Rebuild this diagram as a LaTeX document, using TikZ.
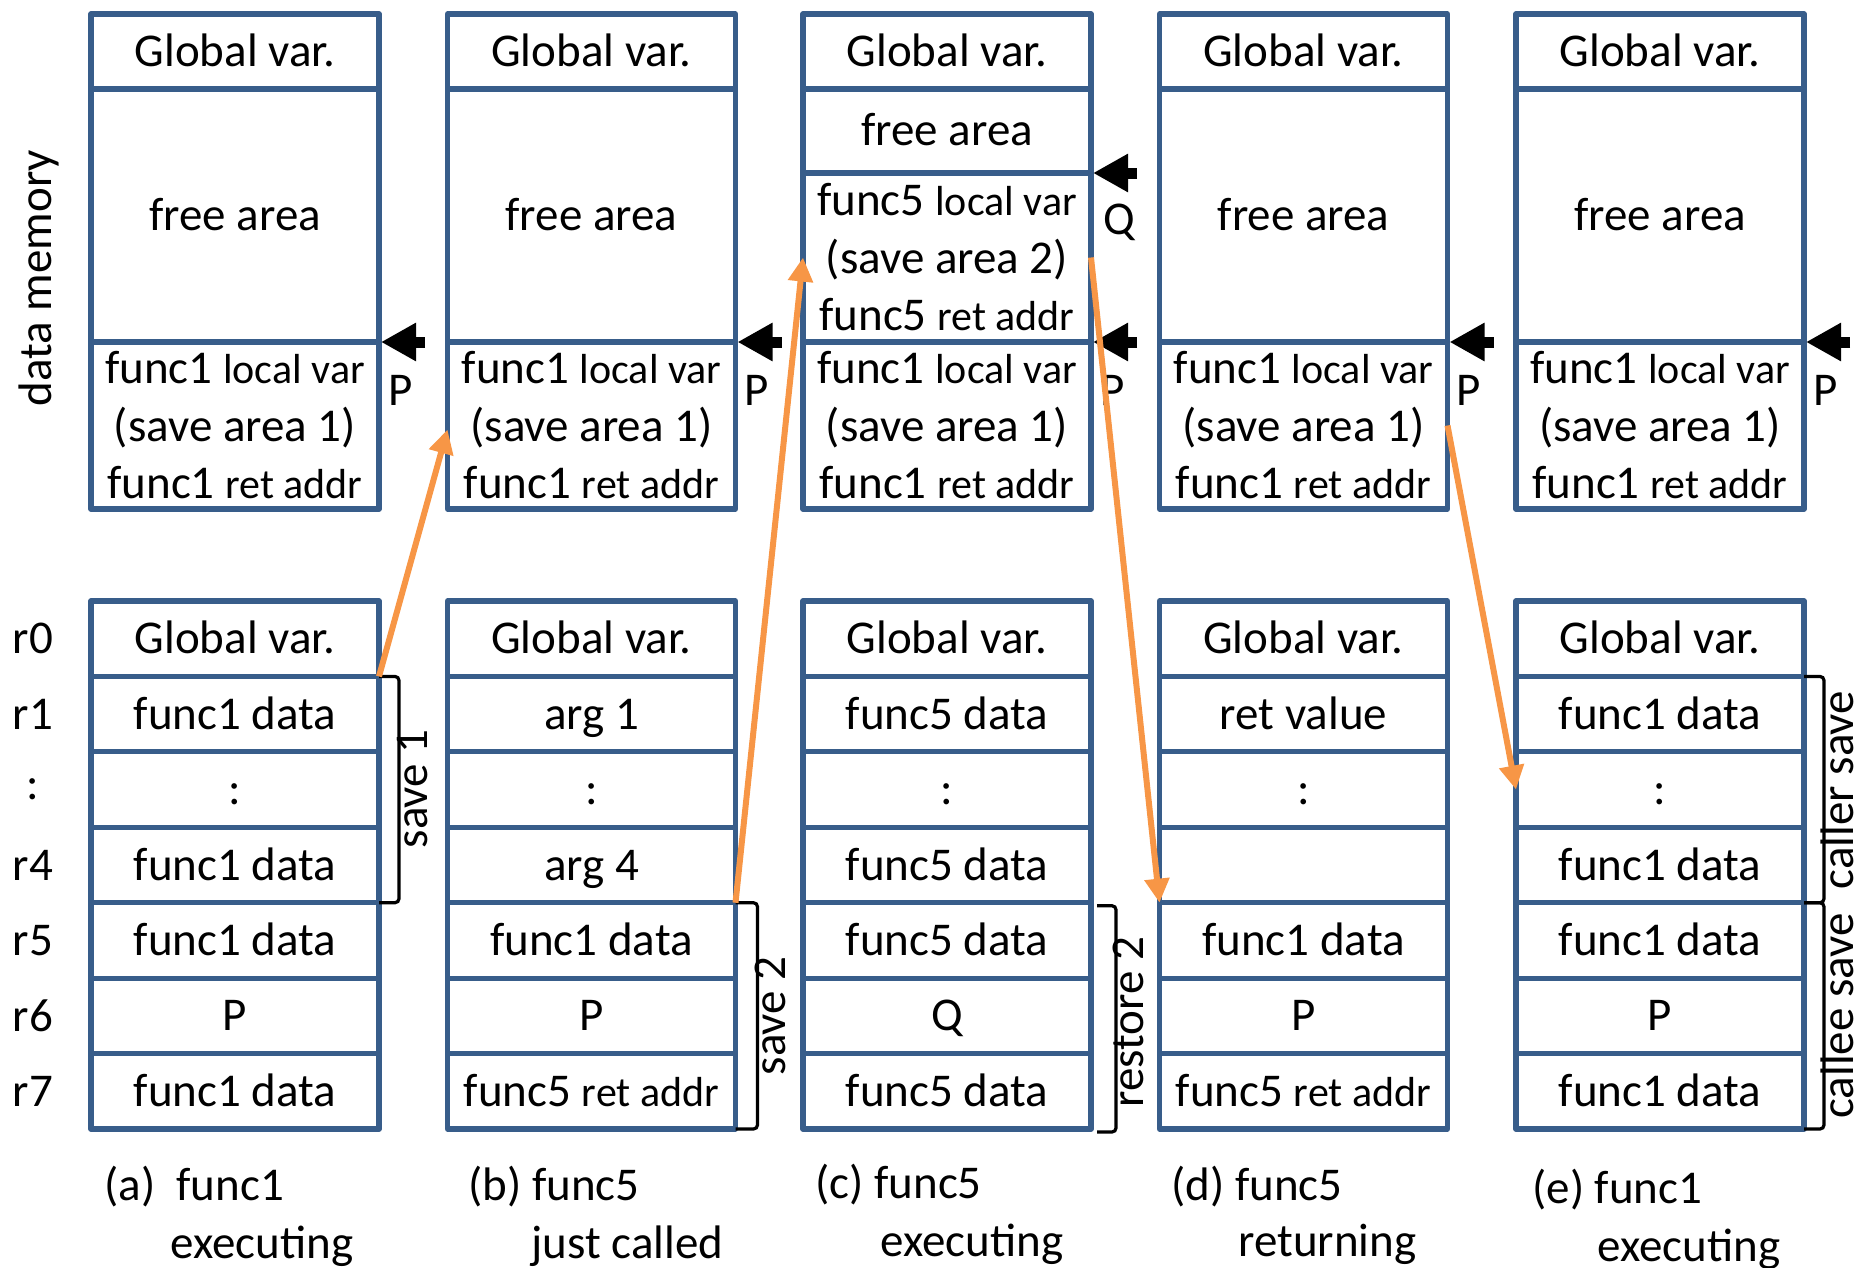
\documentclass[tikz,border=0pt]{standalone}
\usepackage{fontspec}
\setmainfont{Carlito}
\usetikzlibrary{arrows.meta,calc}
\definecolor{boxblue}{HTML}{385D8A}
\definecolor{linkorange}{HTML}{F79646}
\newcommand\bigtxt{\fontsize{23.5}{28.75}\selectfont}
\newcommand\sm[1]{{\fontsize{21}{28.75}\selectfont #1}}
% memory block: [style] name, left x, top y, bottom y, text
\newcommand\memblk[6][]{\node[cell,#1,minimum height={(#5-#4)*0.5pt}] (#2) at ({#3+144},{(#4+#5)/2}) {#6};}
% register row: name, left x, row index, text
\newcommand\regblk[4]{\node[cell,reg] (#1) at ({#2+144},{601+75.43*(#3+0.5)}) {#4};}
\begin{document}
\begin{tikzpicture}[x=0.5pt,y=-0.5pt,
  cell/.style={draw=boxblue, line width=2.6pt, line join=round, minimum width=144pt,
    inner sep=0pt, outer sep=0pt, align=center, font=\bigtxt},
  oneline/.style={text height=17pt, text depth=2pt},
  reg/.style={oneline, minimum height=37.715pt},
  lbl/.style={font=\bigtxt, inner sep=0pt},
  ptr/.style={line width=5.5pt, -{Triangle[length=17.5pt,width=18pt]}},
  link/.style={draw=linkorange, line width=3pt, -{Triangle[length=12pt,width=12pt]}},
  brk/.style={line width=1.6pt, rounded corners=2pt},
]
\useasboundingbox (0,0) rectangle (1858,1268);

% ---- data memory (top row) ----
\memblk[oneline]{aGlob}{91}{14}{89}{Global var.}
\memblk[oneline]{aFree}{91}{89}{342}{free area}
\memblk{aLoc}{91}{342}{509}{func1 \sm{local var}\\(save area 1)\\func1 \sm{ret addr}}

\memblk[oneline]{bGlob}{447.5}{14}{89}{Global var.}
\memblk[oneline]{bFree}{447.5}{89}{342}{free area}
\memblk{bLoc}{447.5}{342}{509}{func1 \sm{local var}\\(save area 1)\\func1 \sm{ret addr}}

\memblk[oneline]{cGlob}{803}{14}{89}{Global var.}
\memblk[oneline]{cFree}{803}{89}{173}{free area}
\memblk{cF5}{803}{173}{342}{func5 \sm{local var}\\(save area 2)\\func5 \sm{ret addr}}
\memblk{cLoc}{803}{342}{509}{func1 \sm{local var}\\(save area 1)\\func1 \sm{ret addr}}

\memblk[oneline]{dGlob}{1159.5}{14}{89}{Global var.}
\memblk[oneline]{dFree}{1159.5}{89}{342}{free area}
\memblk{dLoc}{1159.5}{342}{509}{func1 \sm{local var}\\(save area 1)\\func1 \sm{ret addr}}

\memblk[oneline]{eGlob}{1516}{14}{89}{Global var.}
\memblk[oneline]{eFree}{1516}{89}{342}{free area}
\memblk{eLoc}{1516}{342}{509}{func1 \sm{local var}\\(save area 1)\\func1 \sm{ret addr}}

% ---- registers (bottom row) ----
\regblk{aR0}{91}{0}{Global var.}
\regblk{aR1}{91}{1}{func1 data}
\regblk{aR2}{91}{2}{:}
\regblk{aR3}{91}{3}{func1 data}
\regblk{aR4}{91}{4}{func1 data}
\regblk{aR5}{91}{5}{P}
\regblk{aR6}{91}{6}{func1 data}

\regblk{bR0}{447.5}{0}{Global var.}
\regblk{bR1}{447.5}{1}{arg 1}
\regblk{bR2}{447.5}{2}{:}
\regblk{bR3}{447.5}{3}{arg 4}
\regblk{bR4}{447.5}{4}{func1 data}
\regblk{bR5}{447.5}{5}{P}
\regblk{bR6}{447.5}{6}{func5 \sm{ret addr}}

\regblk{cR0}{803}{0}{Global var.}
\regblk{cR1}{803}{1}{func5 data}
\regblk{cR2}{803}{2}{:}
\regblk{cR3}{803}{3}{func5 data}
\regblk{cR4}{803}{4}{func5 data}
\regblk{cR5}{803}{5}{Q}
\regblk{cR6}{803}{6}{func5 data}

\regblk{dR0}{1159.5}{0}{Global var.}
\regblk{dR1}{1159.5}{1}{ret value}
\regblk{dR2}{1159.5}{2}{:}
\regblk{dR3}{1159.5}{3}{}
\regblk{dR4}{1159.5}{4}{func1 data}
\regblk{dR5}{1159.5}{5}{P}
\regblk{dR6}{1159.5}{6}{func5 \sm{ret addr}}

\regblk{eR0}{1516}{0}{Global var.}
\regblk{eR1}{1516}{1}{func1 data}
\regblk{eR2}{1516}{2}{:}
\regblk{eR3}{1516}{3}{func1 data}
\regblk{eR4}{1516}{4}{func1 data}
\regblk{eR5}{1516}{5}{P}
\regblk{eR6}{1516}{6}{func1 data}

% ---- side labels ----
\node[lbl, rotate=90, anchor=base] (dmem) at (51,278) {data memory};
\foreach \t [count=\i from 0] in {r0,r1,:,r4,r5,r6,r7}
  \node[lbl] (reglab\i) at (33,{601+75.43*(\i+0.5)}) {\t};

% ---- stack pointers (P = frame top of func1, Q = frame top of func5) ----
\foreach \c/\blk in {a/aFree,b/bFree,c/cF5,d/dFree,e/eFree}{
  \coordinate (\c PtrTail) at ($(\blk.south east)+(46,0)$);
  \draw[ptr] (\c PtrTail) -- ($(\blk.south east)+(2,0)$);
  \node[lbl, anchor=base west] (\c P) at ($(\blk.south east)+(9,63)$) {P};
}
\coordinate (cQTail) at ($(cFree.south east)+(46,0)$);
\draw[ptr] (cQTail) -- ($(cFree.south east)+(2,0)$);
\node[lbl, anchor=base west] (cQ) at ($(cFree.south east)+(12,61)$) {Q};

% ---- save / restore brackets ----
\draw[brk] (aR1.north east) -- ++(20,0) |- (aR3.south east);
\node[lbl, rotate=90, anchor=base] (save1) at (427,789) {save 1};
\draw[brk] (bR4.north east) -- ++(22,0) |- (bR6.south east);
\node[lbl, rotate=90, anchor=base] (save2) at (785,1016) {save 2};
\draw[brk] ($(cR4.north east)+(6,3)$) -- ++(19,0) |- ($(cR6.south east)+(6,3)$);
\node[lbl, rotate=90, anchor=base] (restore2) at (1143,1022) {restore 2};
\draw[brk] (eR1.north east) -- ++(20,0) |- (eR3.south east);
\node[lbl, rotate=90, anchor=base] (callersave) at (1853,790) {caller save};
\draw[brk] (eR4.north east) -- ++(20,0) |- (eR6.south east);
\node[lbl, rotate=90, anchor=base] (calleesave) at (1853,1016) {callee save};

% ---- data movement ----
\draw[link] (aR1.north east) -- ($(bLoc.west)+(0,4)$);
\draw[link] (bR4.north east) -- (cF5.west);
\draw[link] (cF5.east) -- (dR4.north west);
\draw[link] (dLoc.east) -- (eR2.west);

% ---- captions ----
\node[lbl, anchor=base west] (capA1) at (104,1200) {(a)\ \ func1};
\node[lbl, anchor=base west] (capA2) at (170,1258) {executing};
\node[lbl, anchor=base west] (capB1) at (468,1200) {(b) func5};
\node[lbl, anchor=base west] (capB2) at (531,1258) {just called};
\node[lbl, anchor=base west] (capC1) at (815,1198) {(c) func5};
\node[lbl, anchor=base west] (capC2) at (880,1256) {executing};
\node[lbl, anchor=base west] (capD1) at (1171,1200) {(d) func5};
\node[lbl, anchor=base west] (capD2) at (1238,1256) {returning};
\node[lbl, anchor=base west] (capE1) at (1532,1203) {(e) func1};
\node[lbl, anchor=base west] (capE2) at (1597,1261) {executing};
\end{tikzpicture}
\end{document}
